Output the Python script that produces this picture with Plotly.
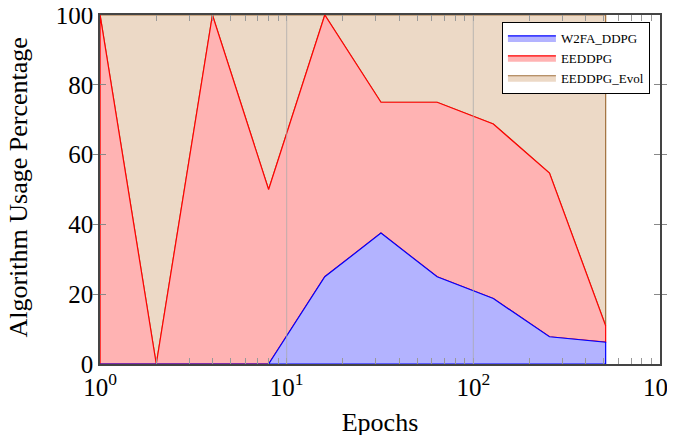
import plotly.graph_objects as go

epochs = [1, 2, 4, 8, 16, 32, 64, 128, 256, 512]
w2fa_ddpg = [0, 0, 0, 0, 25, 37.5, 25, 18.75, 7.8, 6.25]
eeddpg = [100, 0, 100, 50, 75, 37.5, 50, 50, 46.9, 4.7]
eeddpg_evol = [0, 100, 0, 50, 0, 25, 25, 31.25, 45.3, 89.05]

x_tickvals = [1, 10, 100, 1000]
x_ticktext = ["10<sup>0</sup>", "10<sup>1</sup>", "10<sup>2</sup>", "10<sup>3</sup>"]
y_tickvals = [0, 20, 40, 60, 80, 100]

# cumulative boundaries
lvl0 = [0.0] * len(epochs)
lvl1 = [a for a in w2fa_ddpg]
lvl2 = [a + b for a, b in zip(lvl1, eeddpg)]
lvl3 = [a + b for a, b in zip(lvl2, eeddpg_evol)]

def poly(lower, upper):
    xs = list(epochs) + list(reversed(epochs)) + [epochs[0]]
    ys = list(upper) + list(reversed(lower)) + [upper[0]]
    return xs, ys

series = [
    ("EEDDPG_Evol", lvl2, lvl3, "#ECD9C6", "#A0703C"),
    ("EEDDPG", lvl1, lvl2, "#FFB3B3", "#FF0000"),
    ("W2FA_DDPG", lvl0, lvl1, "#B3B3FF", "#0000FF"),
]

fig = go.Figure()
for i, (name, lo, up, fc, lc) in enumerate(series):
    xs, ys = poly(lo, up)
    fig.add_trace(go.Scatter(
        x=xs, y=ys, mode="lines", fill="toself", fillcolor=fc,
        line=dict(color=lc, width=1.2), name=name, legendrank=3 - i,
        legendgroup=name, hoverinfo="skip"))

# invisible helper trace on the overlay axis that carries the minor ticks
fig.add_trace(go.Scatter(x=[epochs[0]], y=[0], xaxis="x2", mode="markers",
                         marker=dict(opacity=0), showlegend=False, hoverinfo="skip"))

# major grid lines drawn over the areas (as in the reference)
for gx in x_tickvals[1:-1]:
    fig.add_shape(type="line", xref="x", yref="paper", x0=gx, x1=gx, y0=0, y1=1,
                  line=dict(color="rgba(170,170,170,0.75)", width=1), layer="above")

font_family = "Liberation Serif, Times New Roman, serif"
xrange = [-0.0005, 3.0005]

# y-axis title as a rotated annotation placed in the left margin
fig.add_annotation(text="Algorithm Usage Percentage", xref="paper", yref="paper",
                   x=-0.145, y=0.505, xanchor="center", yanchor="middle",
                   textangle=-90, showarrow=False,
                   font=dict(family=font_family, size=26, color="black"))

fig.update_layout(
    width=675, height=435,
    margin=dict(l=92, r=23, t=7, b=79),
    paper_bgcolor="white", plot_bgcolor="white",
    font=dict(family=font_family, size=25, color="black"),
    showlegend=True,
    legend=dict(
        x=0.982, y=0.98, xanchor="right", yanchor="top",
        bgcolor="white", bordercolor="black", borderwidth=1,
        font=dict(family=font_family, size=13),
        traceorder="normal", itemwidth=48, tracegroupgap=7,
    ),
    xaxis=dict(
        type="log", range=xrange, automargin=False,
        tickvals=x_tickvals, ticktext=x_ticktext,
        ticks="", showgrid=False, ticklabeloverflow="allow",
        showline=True, linecolor="#444444", linewidth=1.5, mirror=True,
        zeroline=False,
        title=dict(text="Epochs", font=dict(size=26), standoff=13),
    ),
    xaxis2=dict(
        type="log", range=xrange, overlaying="x", anchor="y", side="bottom",
        tickmode="linear", tick0=0, dtick="D1", showticklabels=False,
        ticks="inside", ticklen=6, tickcolor="#999999", tickwidth=1,
        showgrid=False, zeroline=False, showline=False, mirror="ticks",
        automargin=False,
    ),
    yaxis=dict(
        range=[-0.0001, 100.0001], tickvals=y_tickvals, automargin=False,
        ticks="inside", ticklen=6, tickcolor="#888888", ticklabeloverflow="allow",
        showgrid=False, zeroline=False,
        showline=True, linecolor="#444444", linewidth=1.5, mirror="allticks",
    ),
)

fig.write_html("out.html")
